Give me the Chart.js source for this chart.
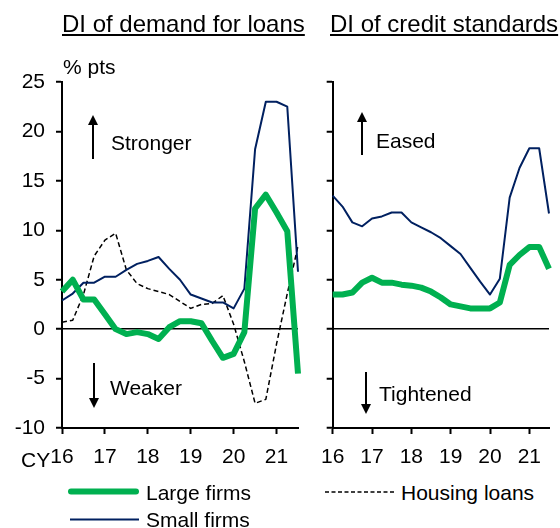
<!DOCTYPE html>
<html>
<head>
<meta charset="utf-8">
<script src="https://cdn.jsdelivr.net/npm/chart.js@4"></script>
<style>
body { margin: 0; background: #fff; }
#wrap { position: relative; width: 560px; height: 528px; overflow: hidden; font-family: "Liberation Sans", Arial, sans-serif; color: #000; }
canvas { position: absolute; top: 0; }
.t { position: absolute; white-space: nowrap; line-height: 1; }
svg { position: absolute; left: 0; top: 0; }
</style>
</head>
<body>
<div id="wrap">
  <canvas id="chartLeft" width="310" height="480" style="left:0"></canvas>
  <canvas id="chartRight" width="250" height="480" style="left:310px"></canvas>

  <div class="t" style="left:62px;top:12px;font-size:24px;text-decoration:underline">DI of demand for loans</div>
  <div class="t" style="left:330px;top:12px;font-size:24px;text-decoration:underline">DI of credit standards</div>
  <div class="t" style="left:63px;top:56px;font-size:21px">% pts</div>
  <div class="t" style="left:21px;top:449px;font-size:21px">CY</div>

  <div class="t" style="left:111px;top:132px;font-size:21px">Stronger</div>
  <div class="t" style="left:110px;top:377px;font-size:21px">Weaker</div>
  <div class="t" style="left:376px;top:130px;font-size:21px">Eased</div>
  <div class="t" style="left:379px;top:383px;font-size:21px">Tightened</div>

  <div class="t" style="left:146px;top:482px;font-size:21px">Large firms</div>
  <div class="t" style="left:146px;top:509px;font-size:21px">Small firms</div>
  <div class="t" style="left:401px;top:482px;font-size:21px">Housing loans</div>

  <svg width="560" height="528">
    <g stroke="#000" stroke-width="2" fill="#000">
      <line x1="93" y1="159" x2="93" y2="124" />
      <polygon points="88,125 98,125 93,115" stroke="none" />
      <line x1="94" y1="363" x2="94" y2="399" />
      <polygon points="89,398 99,398 94,408" stroke="none" />
      <line x1="362" y1="155" x2="362" y2="121" />
      <polygon points="357,122 367,122 362,112" stroke="none" />
      <line x1="366" y1="372" x2="366" y2="405" />
      <polygon points="361,404 371,404 366,414" stroke="none" />
    </g>
    <line x1="71" y1="491.5" x2="136" y2="491.5" stroke="#00B050" stroke-width="6" stroke-linecap="round" />
    <line x1="70" y1="519.5" x2="139" y2="519.5" stroke="#002060" stroke-width="2" />
    <line x1="325" y1="492" x2="394" y2="492" stroke="#000" stroke-width="1.5" stroke-dasharray="4,2.5" />
  </svg>
</div>

<script>
// quarterly observations, CY2016 Q1 .. CY2021 Q3
const quarters = [
    '16Q1', '16Q2', '16Q3', '16Q4',
    '17Q1', '17Q2', '17Q3', '17Q4',
    '18Q1', '18Q2', '18Q3', '18Q4',
    '19Q1', '19Q2', '19Q3', '19Q4',
    '20Q1', '20Q2', '20Q3', '20Q4',
    '21Q1', '21Q2', '21Q3'
];
const yearLabels = ['16', '17', '18', '19', '20', '21'];

// DI of demand for loans
const demandLarge = [3.8, 5.0, 3.0, 3.0, 1.5, 0.0, -0.5, -0.3, -0.5, -1.0, 0.2, 0.8,
    0.8, 0.6, -1.2, -2.9, -2.5, -0.3, 12.2, 13.6, 11.8, 9.9, -4.5];
const demandSmall = [2.9, 3.6, 4.7, 4.7, 5.3, 5.3, 6.0, 6.6, 6.9, 7.3, 6.1, 5.0,
    3.5, 3.1, 2.7, 2.7, 2.1, 4.1, 18.2, 23.0, 23.0, 22.5, 5.8];
const housing = [0.7, 0.9, 3.5, 7.4, 9.0, 9.7, 6.0, 4.6, 4.1, 3.8, 3.5, 2.8,
    2.1, 2.5, 2.6, 3.4, 0.5, -3.3, -7.5, -7.1, -1.5, 3.6, 8.4];

// DI of credit standards
const standardsLarge = [3.5, 3.5, 3.7, 4.7, 5.2, 4.7, 4.7, 4.5, 4.4, 4.2, 3.8, 3.2,
    2.5, 2.3, 2.1, 2.1, 2.1, 2.7, 6.5, 7.5, 8.3, 8.3, 6.1];
const standardsSmall = [13.5, 12.4, 10.8, 10.4, 11.2, 11.4, 11.8, 11.8, 10.8, 10.3, 9.8, 9.2,
    8.4, 7.6, 6.2, 4.8, 3.5, 5.1, 13.3, 16.3, 18.3, 18.3, 11.7];

const GREEN = '#00B050';
const NAVY = '#002060';
const FONT = { family: 'Liberation Sans, Arial, sans-serif', size: 21 };

function Series(values, color, width, dash) {
    return {
        data: values,
        borderColor: color,
        borderWidth: width,
        borderDash: dash || [],
        pointRadius: 0,
        tension: 0,
        fill: false,
        borderCapStyle: 'butt',
        borderJoinStyle: 'round'
    };
}

function BuildPanel(id, datasets, yWidth, padRight, showYLabels) {
    var ctx = document.getElementById(id);
    return new Chart(ctx, {
        type: 'line',
        data: { labels: quarters, datasets: datasets },
        options: {
            responsive: false,
            animation: false,
            layout: { autoPadding: false, padding: { top: 82, right: padRight, left: 0, bottom: 0 } },
            plugins: { legend: { display: false }, tooltip: { enabled: false } },
            scales: {
                x: {
                    type: 'category',
                    offset: false,
                    afterFit: s => { s.height = 52; },
                    border: { display: true, color: '#000', width: 2 },
                    grid: {
                        drawOnChartArea: false,
                        tickLength: 6,
                        tickWidth: 2,
                        tickColor: c => (c.index % 4 === 0 ? '#000' : 'rgba(0,0,0,0)')
                    },
                    ticks: {
                        autoSkip: false,
                        maxRotation: 0,
                        padding: 11,
                        color: '#000',
                        font: FONT,
                        callback: (v, i) => (i % 4 === 0 ? yearLabels[i / 4] : '')
                    }
                },
                y: {
                    min: -10,
                    max: 25,
                    afterFit: s => { s.width = yWidth; },
                    border: { display: true, color: '#000', width: 2 },
                    grid: {
                        drawOnChartArea: true,
                        lineWidth: 1.5,
                        tickLength: 6,
                        tickWidth: 2,
                        tickColor: '#000',
                        color: c => (c.tick && c.tick.value === 0 ? '#000' : 'rgba(0,0,0,0)')
                    },
                    ticks: {
                        stepSize: 5,
                        padding: 11,
                        color: '#000',
                        font: FONT,
                        callback: v => (showYLabels ? v : '')
                    }
                }
            }
        }
    });
}

BuildPanel('chartLeft', [
    Series(demandLarge, GREEN, 6),
    Series(demandSmall, NAVY, 2),
    Series(housing, '#000', 1.5, [5, 3])
], 62, 12, true);

BuildPanel('chartRight', [
    Series(standardsLarge, GREEN, 6),
    Series(standardsSmall, NAVY, 2)
], 21, 9, false);
</script>
</body>
</html>
